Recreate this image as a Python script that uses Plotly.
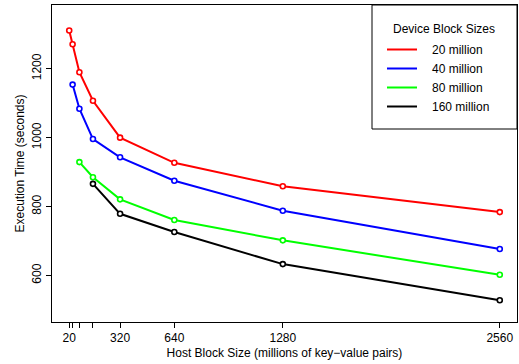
import plotly.graph_objects as go

host_sizes = [20, 40, 80, 160, 320, 640, 1280, 2560]
tick_text = ["20", "", "", "", "320", "640", "1280", "2560"]

series_names = ["20 million", "40 million", "80 million", "160 million"]
series_colors = ["#FF0000", "#0000FF", "#00FF00", "#000000"]
x_20m = [20, 40, 80, 160, 320, 640, 1280, 2560]
y_20m = [1311, 1271, 1190, 1107, 1000, 927, 859, 784]
x_40m = [40, 80, 160, 320, 640, 1280, 2560]
y_40m = [1154, 1084, 996, 943, 875, 788, 677]
x_80m = [80, 160, 320, 640, 1280, 2560]
y_80m = [929, 885, 821, 761, 702, 602]
x_160m = [160, 320, 640, 1280, 2560]
y_160m = [866, 779, 726, 633, 528]

xs = [x_20m, x_40m, x_80m, x_160m]
ys = [y_20m, y_40m, y_80m, y_160m]

FONT = "Liberation Sans, Arial, sans-serif"
fig = go.Figure()
for name, col, x, y in zip(series_names, series_colors, xs, ys):
    fig.add_trace(go.Scatter(
        x=x, y=y, mode="lines+markers", showlegend=False,
        line=dict(color=col, width=2),
        marker=dict(symbol="circle", size=5, color="white",
                    line=dict(color=col, width=1.6)),
    ))
    fig.add_trace(go.Scatter(
        x=[None], y=[None], mode="lines", name="\u00a0\u00a0\u00a0" + name,
        line=dict(color=col, width=2),
    ))

L, R, T, B = 52, 2, 5, 42
W, H = 519, 364
pw, ph = W - L - R, H - T - B

def px_x(p):
    return (p - L) / pw

def px_y(p):
    return (H - B - p) / ph

fig.add_shape(type="rect", xref="paper", yref="paper",
              x0=px_x(372), x1=1, y0=px_y(129), y1=1,
              line=dict(color="black", width=1), fillcolor="white", layer="below")
fig.add_annotation(text="Device Block Sizes", xref="paper", yref="paper",
                   x=px_x(444), y=px_y(29), xanchor="center", yanchor="middle",
                   showarrow=False,
                   font=dict(size=12, color="black", family=FONT))

fig.update_layout(
    template="none",
    width=W, height=H,
    margin=dict(l=L, r=R, t=T, b=B, autoexpand=False),
    paper_bgcolor="white", plot_bgcolor="rgba(0,0,0,0)",
    font=dict(family=FONT, size=12, color="black"),
    legend=dict(x=px_x(382), y=px_y(35), xanchor="left", yanchor="top",
                bgcolor="rgba(0,0,0,0)", borderwidth=0,
                font=dict(size=12, family=FONT, color="black")),
    xaxis=dict(range=[-81.6, 2661.6], tickvals=host_sizes, ticktext=tick_text,
               automargin=False,
               showgrid=False, zeroline=False, showline=True, mirror=True,
               linecolor="black", linewidth=1, ticks="outside", ticklen=5,
               tickcolor="black", tickfont=dict(size=12, color="black"),
               title=dict(text="Host Block Size (millions of key\u2212value pairs)",
                          font=dict(size=12, color="black"), standoff=4)),
    yaxis=dict(range=[465, 1385], tickvals=[600, 800, 1000, 1200],
               automargin=False,
               showgrid=False, zeroline=False, showline=True, mirror=True,
               linecolor="black", linewidth=1, ticks="outside", ticklen=5,
               tickcolor="black", tickangle=-90, tickfont=dict(size=12, color="black"),
               title=dict(text="Execution Time (seconds)",
                          font=dict(size=12, color="black"), standoff=3)),
)

fig.write_html("out.html", config={"displayModeBar": False},
               post_script="document.body.style.margin='0px';")
